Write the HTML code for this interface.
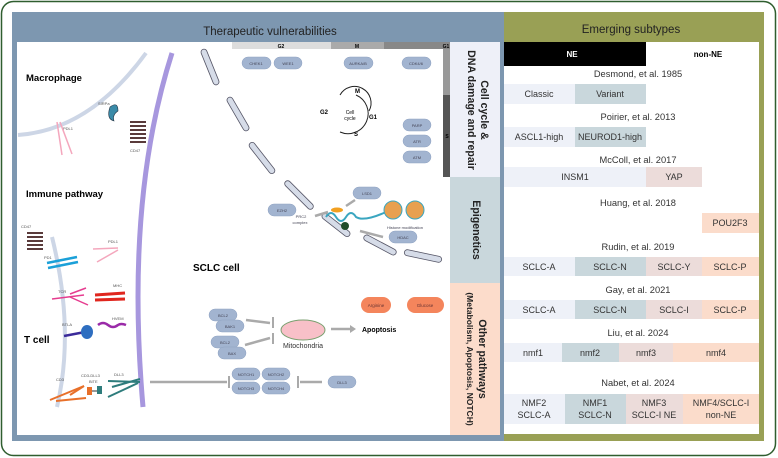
<!DOCTYPE html>
<html><head><meta charset="utf-8"><style>
html,body{margin:0;padding:0;background:#fff;}
svg{display:block;font-family:"Liberation Sans",sans-serif;}
</style></head><body>
<svg width="778" height="458" viewBox="0 0 778 458" xmlns="http://www.w3.org/2000/svg">
<rect x="1.5" y="1.5" width="774" height="454" rx="12" fill="#fff" stroke="#2f5e2f" stroke-width="1.5"/>
<rect x="12" y="12" width="492" height="429" fill="#7d97b0"/>
<rect x="17" y="42" width="433" height="393" fill="#fff"/>
<text x="270" y="35" font-size="11.5" text-anchor="middle" fill="#222">Therapeutic vulnerabilities</text>
<rect x="450" y="42" width="50" height="135" fill="#eef0f8"/>
<rect x="450" y="177" width="50" height="106" fill="#c9d7dc"/>
<rect x="450" y="283" width="50" height="152" fill="#fcdccb"/>
<text transform="translate(476,110) rotate(90)" font-size="10.6" font-weight="bold" text-anchor="middle" fill="#222"><tspan x="0" y="-5">Cell cycle &amp;</tspan><tspan x="0" y="8">DNA damage and repair</tspan></text>
<text transform="translate(476,230) rotate(90)" font-size="10.6" font-weight="bold" text-anchor="middle" fill="#222"><tspan x="0" y="3">Epigenetics</tspan></text>
<text transform="translate(476,359) rotate(90)" font-size="10.6" font-weight="bold" text-anchor="middle" fill="#222"><tspan x="0" y="-3">Other pathways</tspan><tspan x="0" y="9" font-size="8.5">(Metabolism, Apoptosis, NOTCH)</tspan></text>
<rect x="232" y="42" width="99" height="7" fill="#ddd"/>
<rect x="331" y="42" width="53" height="7" fill="#aaa"/>
<rect x="384" y="42" width="66" height="7" fill="#888"/>
<text x="281" y="48" font-size="5" font-weight="bold" text-anchor="middle">G2</text>
<text x="357" y="48" font-size="5" font-weight="bold" text-anchor="middle">M</text>
<text x="446" y="48" font-size="5" font-weight="bold" text-anchor="middle">G1</text>
<rect x="443" y="49" width="7" height="46" fill="#999"/>
<rect x="443" y="95" width="7" height="82" fill="#555"/>
<text x="447" y="138" font-size="5" font-weight="bold" text-anchor="middle">S</text>
<path d="M356 95 A14 14 0 1 1 340 132" fill="none" stroke="#222" stroke-width="1"/>
<path d="M340 95 A14 14 0 0 1 369 111" fill="none" stroke="#222" stroke-width="1"/>
<text x="355" y="93" font-size="6" font-weight="bold">M</text><text x="320" y="114" font-size="6" font-weight="bold">G2</text>
<text x="369" y="119" font-size="6" font-weight="bold">G1</text><text x="354" y="136" font-size="6" font-weight="bold">S</text>
<text x="350" y="114" font-size="5" text-anchor="middle">Cell</text><text x="350" y="120" font-size="5" text-anchor="middle">cycle</text>
<path d="M18 135 Q90 130 146 53" fill="none" stroke="#cdd6e6" stroke-width="4"/>
<path d="M172 53 Q125 200 143 407" fill="none" stroke="#a797de" stroke-width="5"/>
<path d="M52 237 Q75 330 57 407" fill="none" stroke="#cdd6e6" stroke-width="4"/>
<g fill="#d6dce8" stroke="#556" stroke-width="0.8">
<rect x="207" y="48" width="6" height="38" rx="3" transform="rotate(-22 210 67)"/>
<rect x="235" y="95" width="6" height="38" rx="3" transform="rotate(-30 238 114)"/>
<rect x="259" y="139" width="6" height="38" rx="3" transform="rotate(-38 262 158)"/>
<rect x="296" y="176" width="6" height="38" rx="3" transform="rotate(-45 299 195)"/>
<rect x="333" y="208" width="6" height="34" rx="3" transform="rotate(-52 336 225)"/>
<rect x="377" y="227" width="6" height="36" rx="3" transform="rotate(-62 380 245)"/>
<rect x="420" y="237" width="6" height="38" rx="3" transform="rotate(-78 423 256)"/>
</g>
<text x="26" y="81" font-size="9.5" font-weight="bold">Macrophage</text>
<text x="26" y="197" font-size="9.5" font-weight="bold">Immune pathway</text>
<text x="24" y="343" font-size="10" font-weight="bold">T cell</text>
<text x="193" y="271" font-size="10" font-weight="bold">SCLC cell</text>
<g font-size="4" fill="#555"><text x="98" y="105">SIRPa</text><text x="63" y="130">PDL1</text><text x="130" y="152">CD47</text>
<text x="21" y="228">CD47</text><text x="44" y="259">PD1</text><text x="108" y="243">PDL1</text><text x="58" y="293">TCR</text><text x="113" y="287">MHC</text>
<text x="62" y="326">BTLA</text><text x="112" y="320">HVEM</text><text x="56" y="381">CD3</text><text x="81" y="377">CD3-DLL3</text><text x="89" y="383">BiTE</text><text x="114" y="376">DLL3</text></g>
<path d="M110 107 q8 -6 8 4 q-6 4 -4 10 q-8 -2 -4 -14z" fill="#3b8ba8" stroke="#234" stroke-width="0.6"/>
<g stroke="#f4a7bd" stroke-width="1.5"><line x1="57" y1="122" x2="62" y2="155"/><line x1="60" y1="122" x2="72" y2="154"/></g>
<g stroke="#5a3b3b" stroke-width="2"><path d="M130 122 h16 M130 126 h16 M130 130 h16 M130 134 h16 M130 138 h16 M130 142 h16" /></g>
<g stroke="#5a3b3b" stroke-width="2"><path d="M27 233 h16 M27 237 h16 M27 241 h16 M27 245 h16 M27 249 h16"/></g>
<g stroke="#1ba0d8" stroke-width="2.5"><line x1="47" y1="263" x2="77" y2="257"/><line x1="48" y1="268" x2="78" y2="262"/></g>
<g stroke="#f4a7bd" stroke-width="1.5"><line x1="93" y1="249" x2="118" y2="248"/><line x1="97" y1="262" x2="118" y2="250"/></g>
<g stroke="#e63c8f" stroke-width="1.5"><line x1="52" y1="299" x2="84" y2="295"/><line x1="70" y1="294" x2="86" y2="288"/><line x1="70" y1="297" x2="88" y2="305"/></g>
<g stroke="#e0261e" stroke-width="3"><line x1="95" y1="295" x2="125" y2="293"/><line x1="95" y1="300" x2="125" y2="299"/></g>
<line x1="64" y1="336" x2="85" y2="332" stroke="#3b2b9a" stroke-width="2.5"/><ellipse cx="87" cy="332" rx="6" ry="7" fill="#2e6ec0"/>
<path d="M98 325 q5 -4 10 0 q5 4 10 0 q3 -2 8 0" fill="none" stroke="#9a2aa8" stroke-width="2.5"/>
<g stroke="#e8702a" stroke-width="2"><line x1="50" y1="400" x2="84" y2="386"/><line x1="56" y1="401" x2="86" y2="398"/><line x1="70" y1="395" x2="84" y2="386"/></g>
<rect x="87" y="387" width="5" height="8" fill="#e8702a"/><rect x="97" y="386" width="5" height="8" fill="#2e7c7c"/><line x1="92" y1="391" x2="97" y2="391" stroke="#333"/>
<g stroke="#2e7c7c" stroke-width="2"><line x1="108" y1="381" x2="140" y2="382"/><line x1="108" y1="397" x2="138" y2="383"/><line x1="112" y1="387" x2="140" y2="379"/></g>
<g fill="#a2b4d0" stroke="#8fa3c2" stroke-width="0.5">
<rect x="242" y="57" width="29" height="12" rx="6"/><rect x="274" y="57" width="28" height="12" rx="6"/>
<rect x="344" y="57" width="29" height="12" rx="6"/><rect x="402" y="57" width="29" height="12" rx="6"/>
<rect x="403" y="119" width="28" height="12" rx="6"/><rect x="403" y="135" width="28" height="12" rx="6"/><rect x="403" y="151" width="28" height="12" rx="6"/>
<rect x="353" y="187" width="28" height="12" rx="6"/><rect x="268" y="204" width="28" height="12" rx="6"/><rect x="389" y="231" width="28" height="12" rx="6"/>
<rect x="209" y="309" width="28" height="12" rx="6"/><rect x="216" y="320" width="28" height="12" rx="6"/>
<rect x="211" y="336" width="28" height="12" rx="6"/><rect x="218" y="347" width="28" height="12" rx="6"/>
<rect x="232" y="368" width="28" height="12" rx="6"/><rect x="262" y="368" width="28" height="12" rx="6"/>
<rect x="232" y="382" width="28" height="12" rx="6"/><rect x="262" y="382" width="28" height="12" rx="6"/>
<rect x="328" y="376" width="28" height="12" rx="6"/>
</g>
<g font-size="4" fill="#445" text-anchor="middle">
<text x="256" y="65">CHEK1</text><text x="288" y="65">WEE1</text><text x="358" y="65">AURKA/B</text><text x="416" y="65">CDK4/6</text>
<text x="417" y="127">PARP</text><text x="417" y="143">ATR</text><text x="417" y="159">ATM</text>
<text x="367" y="195">LSD1</text><text x="282" y="212">EZH2</text><text x="403" y="239">HDAC</text>
<text x="223" y="317">BCL2</text><text x="230" y="328">BAK1</text><text x="225" y="344">BCL2</text><text x="232" y="355">BAX</text>
<text x="246" y="376">NOTCH1</text><text x="276" y="376">NOTCH2</text><text x="246" y="390">NOTCH3</text><text x="276" y="390">NOTCH4</text><text x="342" y="384">DLL3</text>
<text x="301" y="218">PRC2</text><text x="300" y="224">complex</text><text x="405" y="229">Histone modification</text></g>
<rect x="361" y="297" width="30" height="16" rx="8" fill="#f4855c"/><rect x="407" y="297" width="37" height="16" rx="8" fill="#f4855c"/>
<text x="376" y="307" font-size="4.5" text-anchor="middle" fill="#633">Arginine</text><text x="425" y="307" font-size="4.5" text-anchor="middle" fill="#633">Glucose</text>
<path d="M326 217 q5 -8 10 0 q5 8 10 0 q5 -8 10 0 q8 5 30 -5" fill="none" stroke="#3aa6c0" stroke-width="2"/>
<ellipse cx="337" cy="210" rx="6" ry="2.5" fill="#f2a020"/><circle cx="345" cy="226" r="4" fill="#1f4d2a"/>
<circle cx="393" cy="210" r="9" fill="#e8a050" stroke="#3aa6c0"/><circle cx="415" cy="210" r="9" fill="#e8a050" stroke="#3aa6c0"/>
<g stroke="#aaa" stroke-width="2.5" fill="none"><line x1="315" y1="216" x2="328" y2="212"/><line x1="383" y1="237" x2="360" y2="231"/><line x1="355" y1="200" x2="346" y2="206"/>
<line x1="246" y1="320" x2="270" y2="323"/><line x1="245" y1="345" x2="270" y2="338"/><line x1="331" y1="329" x2="350" y2="329"/>
<line x1="150" y1="382" x2="227" y2="382"/><line x1="322" y1="382" x2="300" y2="382"/></g>
<g stroke="#aaa" stroke-width="2"><line x1="273" y1="317" x2="273" y2="328"/><line x1="273" y1="333" x2="273" y2="344"/><line x1="229" y1="376" x2="229" y2="388"/><line x1="298" y1="376" x2="298" y2="388"/></g>
<path d="M350 325 l6 4 l-6 4z" fill="#aaa"/>
<ellipse cx="303" cy="330" rx="22" ry="10" fill="#f8c0c8" stroke="#7aa070"/>
<text x="303" y="348" font-size="7" text-anchor="middle" fill="#333">Mitochondria</text>
<text x="362" y="332" font-size="7" font-weight="bold">Apoptosis</text>
<rect x="504" y="12" width="260" height="429" fill="#99a055"/>
<rect x="504" y="42" width="255" height="392" fill="#fff"/>
<text x="631" y="33" font-size="11.5" text-anchor="middle" fill="#222">Emerging subtypes</text>
<rect x="504" y="42" width="142" height="24" fill="#000"/>
<text x="572" y="57" font-size="8" font-weight="bold" fill="#fff" text-anchor="middle">NE</text>
<text x="708" y="57" font-size="8" font-weight="bold" text-anchor="middle">non-NE</text>
<g font-size="9.3" fill="#333" text-anchor="middle">
<text x="638" y="77">Desmond, et al. 1985</text><text x="638" y="120">Poirier, et al. 2013</text><text x="638" y="163">McColl, et al. 2017</text>
<text x="638" y="206">Huang, et al. 2018</text><text x="638" y="250">Rudin, et al. 2019</text><text x="638" y="293">Gay, et al. 2021</text>
<text x="638" y="336">Liu, et al. 2024</text><text x="638" y="386">Nabet, et al. 2024</text></g>
<g>
<rect x="504" y="84" width="71" height="20" fill="#eef1f8"/><rect x="575" y="84" width="71" height="20" fill="#c9d7dc"/>
<rect x="504" y="127" width="71" height="20" fill="#eef1f8"/><rect x="575" y="127" width="71" height="20" fill="#c9d7dc"/>
<rect x="504" y="167" width="142" height="20" fill="#eef1f8"/><rect x="646" y="167" width="56" height="20" fill="#ecdcda"/>
<rect x="702" y="213" width="57" height="20" fill="#fbdccb"/>
<rect x="504" y="257" width="71" height="19" fill="#eef1f8"/><rect x="575" y="257" width="71" height="19" fill="#c9d7dc"/><rect x="646" y="257" width="56" height="19" fill="#ecdcda"/><rect x="702" y="257" width="57" height="19" fill="#fbdccb"/>
<rect x="504" y="300" width="71" height="19" fill="#eef1f8"/><rect x="575" y="300" width="71" height="19" fill="#c9d7dc"/><rect x="646" y="300" width="56" height="19" fill="#ecdcda"/><rect x="702" y="300" width="57" height="19" fill="#fbdccb"/>
<rect x="504" y="343" width="58" height="19" fill="#eef1f8"/><rect x="562" y="343" width="57" height="19" fill="#c9d7dc"/><rect x="619" y="343" width="54" height="19" fill="#ecdcda"/><rect x="673" y="343" width="86" height="19" fill="#fbdccb"/>
<rect x="504" y="394" width="61" height="30" fill="#eef1f8"/><rect x="565" y="394" width="61" height="30" fill="#c9d7dc"/><rect x="626" y="394" width="57" height="30" fill="#ecdcda"/><rect x="683" y="394" width="76" height="30" fill="#fbdccb"/>
</g>
<g font-size="9" fill="#333" text-anchor="middle">
<text x="539" y="97">Classic</text><text x="610" y="97">Variant</text>
<text x="539" y="140">ASCL1-high</text><text x="610" y="140">NEUROD1-high</text>
<text x="575" y="180">INSM1</text><text x="674" y="180">YAP</text><text x="730" y="226">POU2F3</text>
<text x="539" y="270">SCLC-A</text><text x="610" y="270">SCLC-N</text><text x="674" y="270">SCLC-Y</text><text x="730" y="270">SCLC-P</text>
<text x="539" y="313">SCLC-A</text><text x="610" y="313">SCLC-N</text><text x="674" y="313">SCLC-I</text><text x="730" y="313">SCLC-P</text>
<text x="533" y="356">nmf1</text><text x="590" y="356">nmf2</text><text x="646" y="356">nmf3</text><text x="716" y="356">nmf4</text>
<text x="534" y="406">NMF2</text><text x="534" y="418">SCLC-A</text><text x="595" y="406">NMF1</text><text x="595" y="418">SCLC-N</text>
<text x="654" y="406">NMF3</text><text x="654" y="418">SCLC-I NE</text><text x="721" y="406">NMF4/SCLC-I</text><text x="721" y="418">non-NE</text>
</g>
</svg>
</body></html>
